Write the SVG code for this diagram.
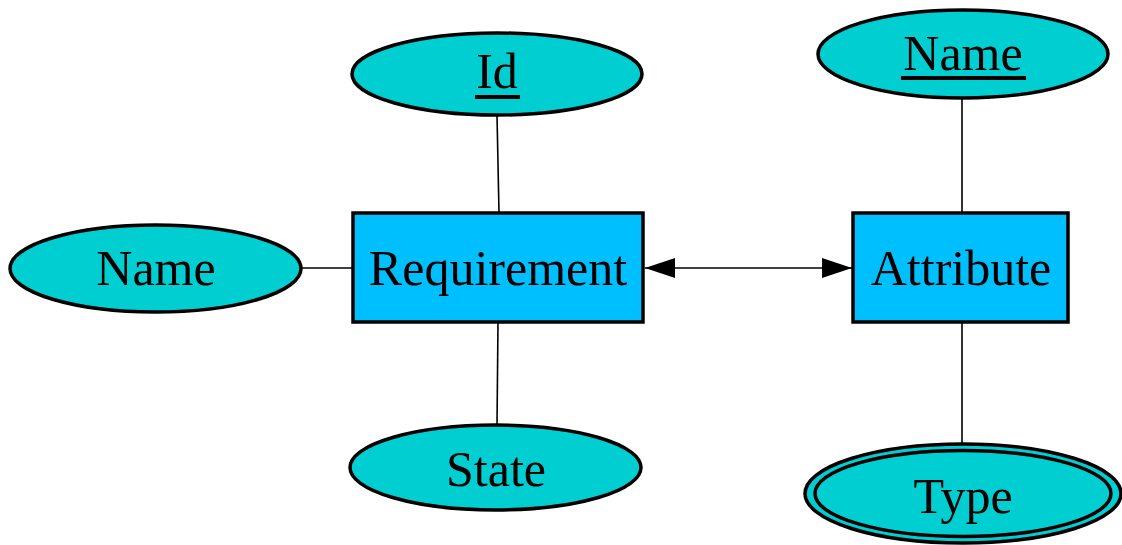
<svg xmlns="http://www.w3.org/2000/svg" width="1122" height="545" viewBox="0 0 1122 545">
<style>
.attr{fill:#00CED1;stroke:#000;stroke-width:3.5}
.ent{fill:#00BFFF;stroke:#000;stroke-width:3.5}
.edge{stroke:#000;stroke-width:1.6;fill:none}
text{font-family:"Liberation Serif","Times New Roman",serif;font-size:50px;fill:#000;text-anchor:middle}
.ul{fill:#000}
</style>
<defs>
<marker id="ah" viewBox="0 0 30 20" refX="30" refY="10" markerWidth="30" markerHeight="20" markerUnits="userSpaceOnUse" orient="auto-start-reverse">
<path d="M0,0 L30,10 L0,20 Z" fill="#000"/>
</marker>
</defs>
<rect width="1122" height="545" fill="#fff"/>
<g id="edges">
<line class="edge" x1="497" y1="115" x2="499" y2="213"/>
<line class="edge" x1="301" y1="268" x2="353" y2="268"/>
<line class="edge" x1="498" y1="322" x2="497" y2="425"/>
<line class="edge" x1="962" y1="98" x2="962" y2="213"/>
<line class="edge" x1="962" y1="322" x2="962" y2="444"/>
<line class="edge" x1="645" y1="268" x2="852" y2="268" marker-start="url(#ah)" marker-end="url(#ah)"/>
</g>
<g id="req">
<rect class="ent" x="353" y="213" width="290" height="109"/>
<text x="498" y="285">Requirement</text>
</g>
<g id="attrib">
<rect class="ent" x="853" y="213" width="215" height="109"/>
<text x="961" y="285">Attribute</text>
</g>
<g id="reqId">
<ellipse class="attr" cx="497" cy="74" rx="145" ry="41"/>
<text x="497" y="88">Id</text>
<rect class="ul" x="475" y="95" width="45" height="4"/>
</g>
<g id="reqName">
<ellipse class="attr" cx="155.5" cy="268.5" rx="145.5" ry="43.5"/>
<text x="156" y="285">Name</text>
</g>
<g id="reqState">
<ellipse class="attr" cx="495.5" cy="467.5" rx="145.5" ry="42.5"/>
<text x="496" y="486">State</text>
</g>
<g id="attrName">
<ellipse class="attr" cx="963" cy="54" rx="145" ry="44"/>
<text x="963" y="70">Name</text>
<rect class="ul" x="901" y="76" width="125" height="4"/>
</g>
<g id="attrType">
<ellipse class="attr" cx="963" cy="493.5" rx="158" ry="49.5"/>
<ellipse class="attr" cx="963" cy="493.5" rx="148" ry="43" style="fill:none"/>
<text x="963" y="513">Type</text>
</g>
</svg>
